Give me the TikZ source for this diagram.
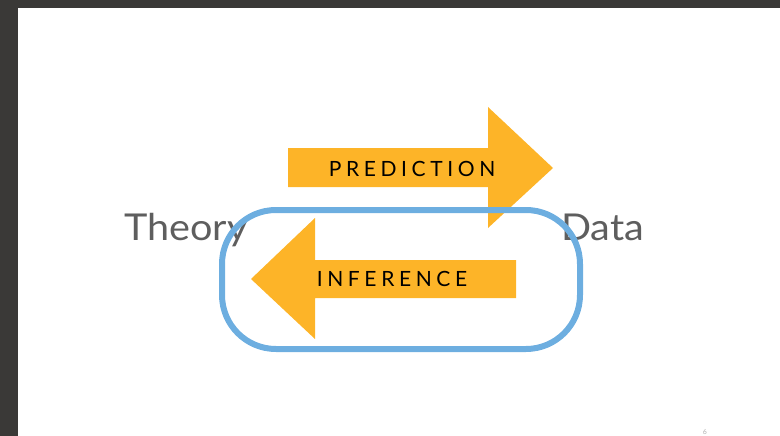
\documentclass[tikz,border=0pt]{standalone}
\usepackage{fontspec}
\setmainfont{Lato}
\newfontfamily\capsfont[LetterSpace=22]{Lato}
\definecolor{frame}{HTML}{3A3937}
\definecolor{arroworange}{HTML}{FDB428}
\definecolor{loopblue}{HTML}{6DAEE0}
\definecolor{wordgray}{HTML}{5E5E5E}
\tikzset{
  bigarrow/.style={fill=arroworange, draw=none},
  arrowlabel/.style={font=\capsfont\fontsize{21}{21}\selectfont, text=black, inner sep=0pt, anchor=base},
  word/.style={font=\fontsize{37}{37}\selectfont, text=wordgray, inner sep=0pt, anchor=base west, xscale=1.07, transform shape},
  loop/.style={draw=loopblue, line width=6pt, rounded corners=54pt},
}
\begin{document}
\begin{tikzpicture}[x=1pt,y=-1pt]
\useasboundingbox (0,0) rectangle (780,436);
% slide frame
\fill[frame] (0,0) rectangle (780,8);
\fill[frame] (0,0) rectangle (18,436);
% words
\node[word] (theory) at (124,240) {Theory};
\node[word] (data) at (561,240) {Data};
% prediction arrow
\fill[bigarrow] (288,148) -- (488,148) -- (488,107) -- (553,168) -- (488,228) -- (488,187) -- (288,187) -- cycle;
\node[arrowlabel] (pred) at (412,176) {PREDICTION};
% inference arrow
\fill[bigarrow] (516,260) -- (315,260) -- (315,218) -- (251,279) -- (315,339) -- (315,298) -- (516,298) -- cycle;
\node[arrowlabel] (inf) at (392,286) {INFERENCE};
% blue loop
\draw[loop] (222,210) rectangle (580,349);
% page number
\node[font=\fontsize{7}{7}\selectfont, text=gray!60, inner sep=0pt, anchor=base] (page) at (705,434) {6};
\end{tikzpicture}
\end{document}
